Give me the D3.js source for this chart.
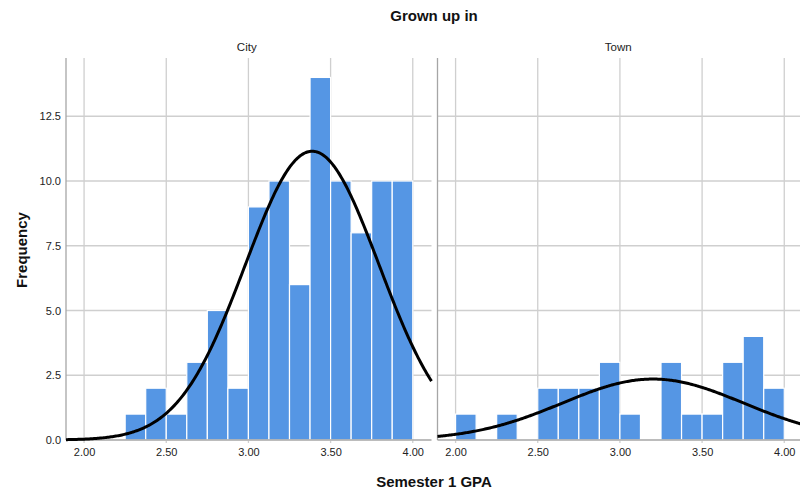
<!DOCTYPE html>
<html>
<head>
<meta charset="utf-8">
<script src="https://cdn.jsdelivr.net/npm/d3@7"></script>
<style>
  html, body { margin: 0; padding: 0; background: #fff; }
  svg { display: block; font-family: "Liberation Sans", Arial, sans-serif; }
</style>
</head>
<body>
<svg id="chart" width="800" height="496"></svg>
<script>
// Histogram bins: start and width (GPA units)
const binStart = 2.0;
const binWidth = 0.125;

// Panels (facets) by where the student grew up
const groups = ["City", "Town"];

// Bin counts, one per 0.125-wide bin from 2.000 to 4.000
const cityCounts = [0, 0, 1, 2, 1, 3, 5, 2, 9, 10, 6, 14, 10, 8, 10, 10];
const townCounts = [1, 0, 1, 0, 2, 2, 2, 3, 1, 0, 3, 1, 1, 3, 4, 2];

// Fitted normal curve parameters per group
const cityMean = 3.388, citySd = 0.407;
const townMean = 3.201, townSd = 0.551;

// Axis tick labels
const xTicks = [2.0, 2.5, 3.0, 3.5, 4.0];
const yTicks = [0, 2.5, 5, 7.5, 10, 12.5];

const titleText = "Grown up in";
const xTitle = "Semester 1 GPA";
const yTitle = "Frequency";

const panelData = [
  { name: groups[0], counts: cityCounts, mean: cityMean, sd: citySd },
  { name: groups[1], counts: townCounts, mean: townMean, sd: townSd }
];

const svg = d3.select("#chart");

const plotTop = 58, plotBottom = 440;
const panelW = 365.5;
const panelX = [66, 437.5];
const xDomain = [1.89, 4.114];

const y = d3.scaleLinear().domain([0, 14.75]).range([plotBottom, plotTop]);

const gridColor = "#cfcfcf";
const axisColor = "#a6a6a6";
const barColor = "#5596e4";

panelData.forEach((p, i) => {
  const x0 = panelX[i];
  const x = d3.scaleLinear().domain(xDomain).range([x0, x0 + panelW]);
  const g = svg.append("g");

  // horizontal grid lines
  g.selectAll("line.hgrid").data(yTicks.filter(d => d > 0)).join("line")
    .attr("class", "hgrid")
    .attr("x1", x0).attr("x2", x0 + panelW)
    .attr("y1", d => y(d)).attr("y2", d => y(d))
    .attr("stroke", gridColor).attr("stroke-width", 1.3);

  // vertical grid lines, extended slightly below the baseline as ticks
  g.selectAll("line.vgrid").data(xTicks).join("line")
    .attr("class", "vgrid")
    .attr("x1", d => x(d)).attr("x2", d => x(d))
    .attr("y1", plotTop).attr("y2", plotBottom + 3)
    .attr("stroke", gridColor).attr("stroke-width", 1.3);

  // histogram bars
  const bins = p.counts.map((c, k) => ({ x0: binStart + k * binWidth, x1: binStart + (k + 1) * binWidth, c }))
    .filter(b => b.c > 0);
  g.selectAll("rect.bar").data(bins).join("rect")
    .attr("class", "bar")
    .attr("x", b => x(b.x0))
    .attr("width", b => x(b.x1) - x(b.x0))
    .attr("y", b => y(b.c))
    .attr("height", b => y(0) - y(b.c))
    .attr("fill", barColor)
    .attr("stroke", "#ffffff")
    .attr("stroke-width", 1.2);

  // axis lines
  g.append("line")
    .attr("x1", x0).attr("x2", x0)
    .attr("y1", plotTop).attr("y2", plotBottom)
    .attr("stroke", axisColor).attr("stroke-width", 1.3);
  g.append("line")
    .attr("x1", x0).attr("x2", x0 + panelW)
    .attr("y1", plotBottom).attr("y2", plotBottom)
    .attr("stroke", axisColor).attr("stroke-width", 1.3);

  // normal curve scaled to counts: N * binWidth * pdf
  const n = d3.sum(p.counts);
  const pts = d3.range(0, 301).map(k => {
    const v = xDomain[0] + (xDomain[1] - xDomain[0]) * k / 300;
    const z = (v - p.mean) / p.sd;
    return [v, n * binWidth * Math.exp(-0.5 * z * z) / (p.sd * Math.sqrt(2 * Math.PI))];
  });
  g.append("path")
    .attr("d", d3.line().x(d => x(d[0])).y(d => y(d[1]))(pts))
    .attr("fill", "none")
    .attr("stroke", "#000")
    .attr("stroke-width", 3);

  // x tick labels
  const xAxis = d3.axisBottom(x).tickValues(xTicks).tickFormat(d3.format(".2f")).tickSize(0).tickPadding(8);
  const xa = g.append("g").attr("transform", `translate(0,${plotBottom})`).call(xAxis);
  xa.select(".domain").remove();
  xa.selectAll("text").attr("font-size", 11).attr("fill", "#222")
    .attr("font-family", "'Liberation Sans', Arial, sans-serif");

  // panel strip label
  g.append("text")
    .attr("x", x0 + panelW / 2 - 2).attr("y", 51)
    .attr("text-anchor", "middle")
    .attr("font-size", 11.5).attr("fill", "#222")
    .text(p.name);
});

// y tick labels on the first panel
const yAxis = d3.axisLeft(y).tickValues(yTicks).tickFormat(d3.format(".1f")).tickSize(0).tickPadding(5);
const ya = svg.append("g").attr("transform", `translate(${panelX[0]},0)`).call(yAxis);
ya.select(".domain").remove();
ya.selectAll("text").attr("font-size", 11).attr("fill", "#222")
  .attr("font-family", "'Liberation Sans', Arial, sans-serif");

// titles
svg.append("text")
  .attr("x", 434).attr("y", 21)
  .attr("text-anchor", "middle")
  .attr("font-size", 15).attr("font-weight", "bold").attr("fill", "#111")
  .text(titleText);

svg.append("text")
  .attr("x", 434).attr("y", 487)
  .attr("text-anchor", "middle")
  .attr("font-size", 15).attr("font-weight", "bold").attr("fill", "#111")
  .text(xTitle);

svg.append("text")
  .attr("transform", "translate(27,250) rotate(-90)")
  .attr("text-anchor", "middle")
  .attr("font-size", 15).attr("font-weight", "bold").attr("fill", "#111")
  .text(yTitle);
</script>
</body>
</html>
